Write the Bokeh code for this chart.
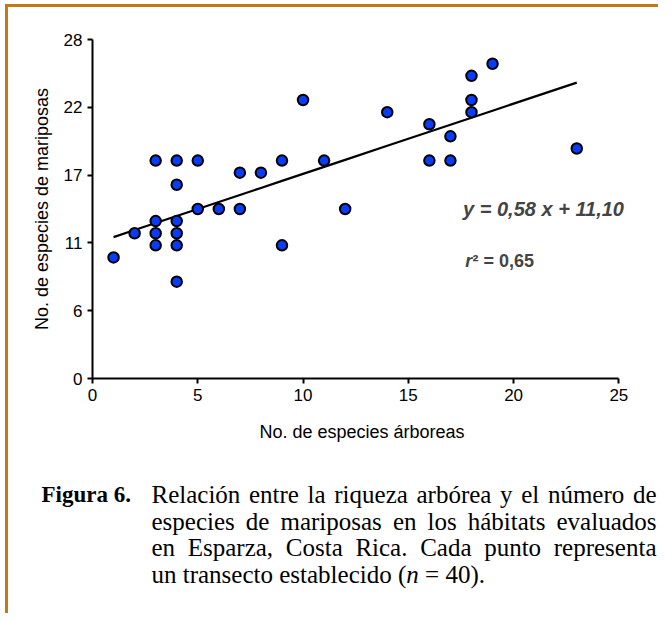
from bokeh.plotting import figure
from bokeh.layouts import column
from bokeh.models import Range1d, FixedTicker, Label, ColumnDataSource
from bokeh.core.properties import value
from bokeh.embed import file_html
from bokeh.resources import INLINE

# ---- data ----
tree_species = [1, 2, 3, 3, 3, 3, 4, 4, 4, 4, 4, 4, 5, 5, 6, 7, 7, 8, 9, 9,
                10, 11, 12, 14, 16, 16, 17, 17, 18, 18, 18, 19, 23]
butterfly_species = [10, 12, 18, 13, 12, 11, 18, 16, 13, 12, 11, 8, 18, 14, 14, 17, 14, 17, 18, 11,
                     23, 18, 14, 22, 21, 18, 20, 18, 25, 23, 22, 26, 19]
slope = 0.58
intercept = 11.10
equation_text = "y = 0,58 x + 11,10"
r2_text = "\u00b2 = 0,65"
x_ticks = [0, 5, 10, 15, 20, 25]
y_ticks = [0, 5.6, 11.2, 16.8, 22.4, 28]
y_tick_labels = ["0", "6", "11", "17", "22", "28"]
x_label = "No. de especies árboreas"
y_label = "No. de especies de mariposas"
caption_head = "Figura 6."
caption_lines = [
    "Relación entre la riqueza arbórea y el número de",
    "especies de mariposas en los hábitats evaluados",
    "en Esparza, Costa Rica. Cada punto representa",
]
caption_last = ["un transecto establecido (", "n", "= 40)."]

W, H = 650, 451
PX = 526 / 25.0          # pixels per x unit
FRAME_W = round(25.6 * PX)
p = figure(width=W, height=H, output_backend="svg", toolbar_location=None,
           x_range=Range1d(0, 25.6), y_range=Range1d(0, 28),
           min_border_left=84, min_border_right=W - 84 - FRAME_W, min_border_top=32,
           min_border_bottom=H - 32 - 339)
p.frame_align = False
p.outline_line_color = None
p.grid.visible = False
p.background_fill_color = "white"
p.border_fill_color = "white"

for ax in (p.xaxis[0], p.yaxis[0]):
    ax.axis_line_width = 2
    ax.major_tick_line_width = 2
    ax.major_tick_out = 5
    ax.major_tick_in = 0
    ax.minor_tick_line_color = None
    ax.major_label_text_font = "Liberation Sans"
    ax.major_label_text_font_size = "17px"
    ax.major_label_text_color = "black"
    ax.axis_label_text_font = "Liberation Sans"
    ax.axis_label_text_font_size = "18px"
    ax.axis_label_text_font_style = "normal"
    ax.axis_label_text_color = "black"

p.xaxis.bounds = (0, 25)
p.xaxis.ticker = FixedTicker(ticks=x_ticks)
p.yaxis.ticker = FixedTicker(ticks=y_ticks)
p.yaxis.major_label_overrides = {t: l for t, l in zip(y_ticks, y_tick_labels)}
p.xaxis.axis_label = x_label
p.yaxis.axis_label = y_label
p.xaxis.axis_label_standoff = 18
p.yaxis.axis_label_standoff = 9

# regression line through fitted values
xs = sorted(set(tree_species))
ys = [slope * x + intercept for x in xs]
p.line(xs, ys, line_color="black", line_width=2.2)

src = ColumnDataSource(dict(x=tree_species, y=butterfly_species))
p.scatter("x", "y", source=src, size=10.5, fill_color="#0a3cf5", line_color="black", line_width=2)

p.add_layout(Label(x=17.6, y=14.0, text=equation_text, text_font="Liberation Sans",
                   text_font_size="20px", text_font_style="bold italic",
                   text_baseline="middle", text_align="left"))
p.add_layout(Label(x=17.7, y=9.7, text="r", text_font="Liberation Sans",
                   text_font_size="18px", text_font_style="bold italic",
                   text_baseline="middle", text_align="left"))
p.add_layout(Label(x=18.05, y=9.7, text=r2_text, text_font="Liberation Sans",
                   text_font_size="18px", text_font_style="bold",
                   text_baseline="middle", text_align="left"))

# ---- caption panel (justified, Times-metric widths) ----
TW = {' ': 250, 'a': 444, 'b': 500, 'c': 444, 'd': 500, 'e': 444, 'f': 333, 'g': 500,
      'h': 500, 'i': 278, 'j': 278, 'k': 500, 'l': 278, 'm': 778, 'n': 500, 'o': 500,
      'p': 500, 'q': 500, 'r': 333, 's': 389, 't': 278, 'u': 500, 'v': 500, 'w': 722,
      'x': 500, 'y': 500, 'z': 444, 'á': 444, 'ó': 500, 'ú': 500, 'é': 444, 'í': 278,
      'R': 667, 'E': 611, 'C': 667, ',': 250, '.': 250, '(': 333, ')': 333, '=': 564,
      '0': 500, '4': 500}


def tw(s, fs):
    return sum(TW.get(c, 500) for c in s) / 1000.0 * fs


FS = 25
HC = 155
LEFT, RIGHT = 143, 648
Y0, DY = 36, 26.5
cap = figure(width=W, height=HC, output_backend="svg", toolbar_location=None,
             x_range=Range1d(0, W), y_range=Range1d(HC, 0),
             x_axis_type=None, y_axis_type=None, min_border=0)
cap.frame_align = False
cap.outline_line_color = None
cap.grid.visible = False
cap.text(x=[33], y=[Y0], text=[caption_head], text_font=value("Liberation Serif"),
         text_font_size="23px", text_font_style="bold", text_baseline="middle",
         text_align="left", text_color="black")

wx, wy, wt = [], [], []
for i, line in enumerate(caption_lines):
    words = line.split(" ")
    widths = [tw(w, FS) for w in words]
    gap = (RIGHT - LEFT - sum(widths)) / (len(words) - 1)
    x = LEFT
    for w, wd in zip(words, widths):
        wx.append(x)
        wy.append(Y0 + DY * i)
        wt.append(w)
        x += wd + gap
cap.text(x=wx, y=wy, text=wt, text_font=value("Liberation Serif"), text_font_size=f"{FS}px",
         text_baseline="middle", text_align="left", text_color="black")

# last line, with italic n
ylast = Y0 + DY * len(caption_lines)
x0 = LEFT
x1 = x0 + tw(caption_last[0], FS)
x2 = x1 + tw(caption_last[1], FS) + tw(" ", FS)
cap.text(x=[x0, x2], y=[ylast, ylast], text=[caption_last[0], caption_last[2]],
         text_font=value("Liberation Serif"), text_font_size=f"{FS}px",
         text_baseline="middle", text_align="left", text_color="black")
cap.text(x=[x1], y=[ylast], text=[caption_last[1]],
         text_font=value("Liberation Serif"), text_font_size=f"{FS}px", text_font_style="italic",
         text_baseline="middle", text_align="left", text_color="black")

layout = column(p, cap, spacing=0,
                styles={"border-top": "3px solid #c47a12", "border-left": "3px solid #c47a12",
                        "margin-top": "4px", "margin-left": "5px"})

open("out.html", "w").write(file_html(layout, INLINE))
